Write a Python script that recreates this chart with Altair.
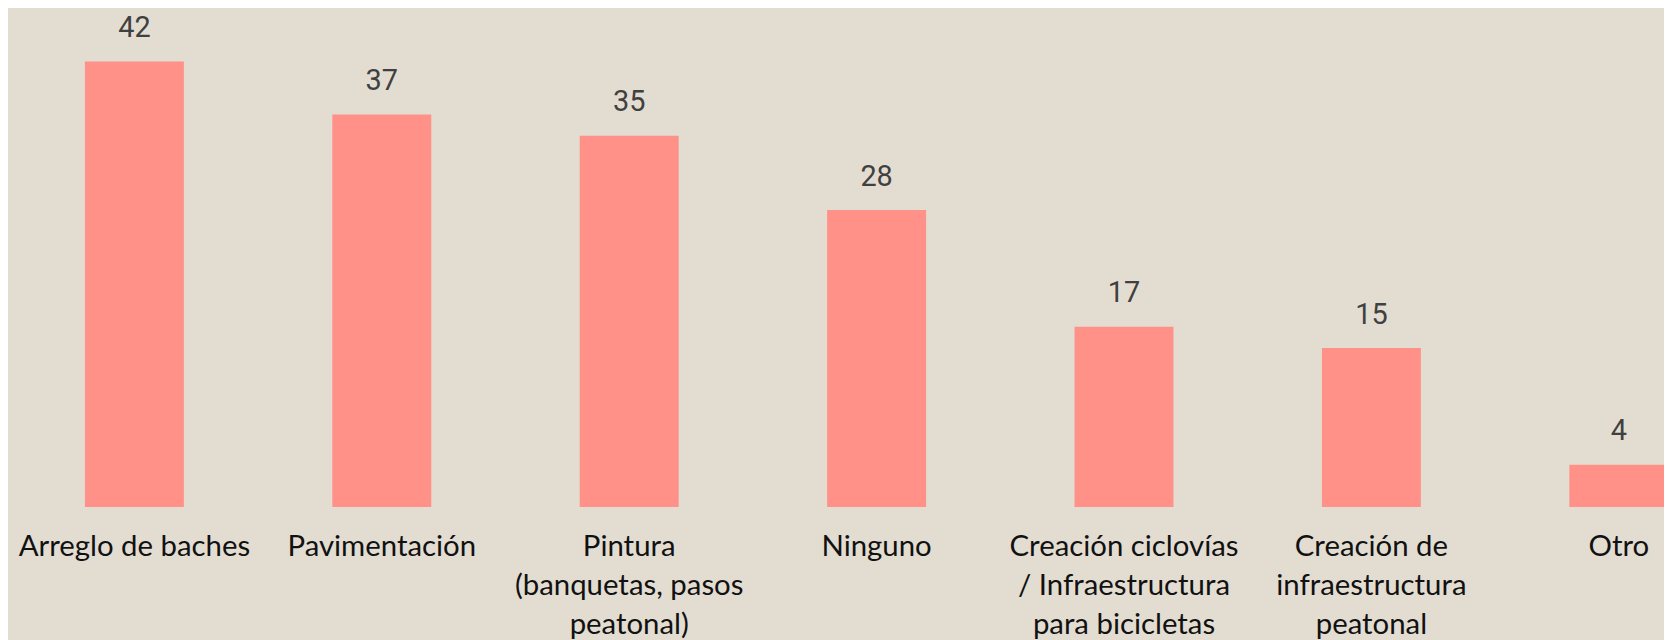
import altair as alt
import pandas as pd

categories = [
    "Arreglo de baches",
    "Pavimentación",
    "Pintura|(banquetas, pasos|peatonal)",
    "Ninguno",
    "Creación ciclovías|/ Infraestructura|para bicicletas",
    "Creación de|infraestructura|peatonal",
    "Otro",
]
values = [42, 37, 35, 28, 17, 15, 4]

df = pd.DataFrame({"categoria": categories, "valor": values})

BG = "#E3DDD1"
BAR = "#FF9189"

x = alt.X(
    "categoria:N",
    sort=categories,
    title=None,
    scale=alt.Scale(range=[2.7, 1742.9], paddingInner=0.6, paddingOuter=0.3),
    axis=alt.Axis(
        labelAngle=0,
        labelExpr="split(datum.label, '|')",
        labelFont="Lato",
        labelFontSize=29.5,
        labelColor="#111111",
        labelLineHeight=39,
        labelBaseline="alphabetic",
        labelPadding=49,
        labelLimit=0,
        ticks=False,
        tickSize=0,
        domain=False,
        grid=False,
        labelOverlap=False,
        labelBound=False,
        labelFlush=False,
    ),
)
y = alt.Y(
    "valor:Q",
    title=None,
    scale=alt.Scale(domain=[0, 46.9], nice=False, zero=True),
    axis=None,
)

bars = alt.Chart(df).mark_bar(color=BAR).encode(x=x, y=y)
labels = alt.Chart(df).mark_text(
    font="Roboto", fontSize=29, color="#404040", baseline="alphabetic", dy=-24.5
).encode(x=x, y=y, text="valor:Q")

chart = (
    alt.layer(bars, labels)
    .properties(
        width=1664,
        height=500,
        background=BG,
        padding={"left": 0, "top": 0, "right": 0, "bottom": 132},
        autosize=alt.AutoSizeParams(type="none"),
    )
    .configure_view(stroke=None)
)

chart.save("out.html", embed_options={"renderer": "svg", "actions": False})
